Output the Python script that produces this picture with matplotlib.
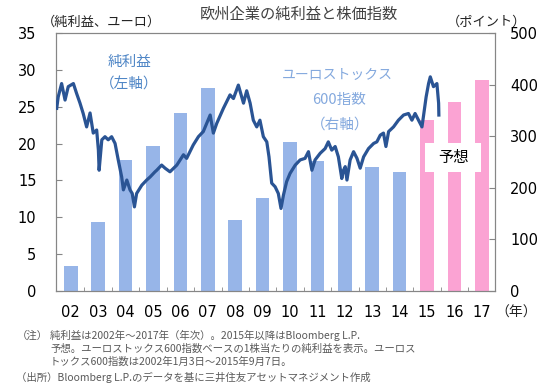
import numpy as np
import matplotlib
matplotlib.use('Agg')
import matplotlib.pyplot as plt
from matplotlib.patches import Rectangle

plt.rcParams['font.family'] = ['Noto Sans CJK JP', 'DejaVu Sans']

# 純利益（ユーロ、年次）
years = ['02', '03', '04', '05', '06', '07', '08', '09', '10', '11', '12', '13', '14', '15', '16', '17']
profit = [3.4, 9.4, 17.8, 19.7, 24.2, 27.5, 9.6, 12.6, 20.2, 17.6, 14.2, 16.8, 16.1, 23.2, 25.7, 28.6]
forecast = [False] * 13 + [True] * 3

# ユーロストックス600指数（小数年、ポイント）
idx_t = [2000.12, 2000.18, 2000.32, 2000.46, 2000.59, 2000.80, 2000.93, 2001.07, 2001.20, 2001.34,
         2001.48, 2001.61, 2001.75, 2001.82, 2001.85, 2001.96, 2002.09, 2002.22, 2002.36, 2002.50,
         2002.63, 2002.77, 2002.84, 2002.98, 2003.11, 2003.20, 2003.29, 2003.38, 2003.59, 2003.79,
         2003.93, 2004.13, 2004.20, 2004.40, 2004.54, 2004.74, 2005.02, 2005.29, 2005.42, 2005.69,
         2005.90, 2006.10, 2006.38, 2006.51, 2006.65, 2006.92, 2007.19, 2007.33, 2007.53, 2007.74,
         2007.87, 2008.01, 2008.14, 2008.28, 2008.41, 2008.55, 2008.69, 2008.78, 2008.89, 2009.03,
         2009.16, 2009.27, 2009.37, 2009.50, 2009.64, 2009.85, 2010.05, 2010.25, 2010.39, 2010.53,
         2010.66, 2010.87, 2011.07, 2011.20, 2011.34, 2011.48, 2011.61, 2011.75, 2011.82, 2011.89,
         2011.96, 2012.09, 2012.23, 2012.37, 2012.50, 2012.64, 2012.84, 2013.05, 2013.18, 2013.32,
         2013.45, 2013.55, 2013.66, 2013.86, 2014.06, 2014.27, 2014.47, 2014.61, 2014.74, 2014.88,
         2015.02, 2015.08, 2015.19, 2015.29, 2015.36, 2015.49, 2015.63, 2015.70, 2015.71]
idx_v = [354, 376, 402, 370, 396, 402, 383, 364, 344, 318,
         345, 306, 312, 273, 234, 293, 299, 293, 299, 286,
         254, 221, 196, 215, 196, 189, 163, 189, 205, 215,
         221, 231, 234, 244, 238, 231, 244, 264, 257, 283,
         299, 309, 341, 306, 325, 354, 380, 373, 399, 364,
         388, 364, 331, 318, 331, 299, 289, 260, 209, 202,
         189, 160, 186, 212, 228, 244, 254, 257, 270, 234,
         254, 267, 276, 289, 273, 280, 260, 218, 234, 241,
         215, 254, 270, 257, 238, 260, 276, 286, 289, 302,
         306, 280, 309, 318, 331, 341, 344, 331, 344, 331,
         318, 338, 376, 402, 415, 396, 402, 364, 341]

blue_bar = '#97b5e8'
pink_bar = '#fba3d3'
line_col = '#2a5494'
spine_col = '#868686'

fig = plt.figure(figsize=(5.43, 3.88), dpi=100)
rect = [0.1031, 0.25, 0.8085, 0.665]
ax = fig.add_axes(rect)

x = np.arange(len(years))
cols = [pink_bar if f else blue_bar for f in forecast]
ax.bar(x, profit, width=0.5, color=cols, zorder=1)
ax.set_xlim(-0.54, 15.48)
ax.set_ylim(0, 35)
ax.set_yticks(np.arange(0, 36, 5))
ax.set_xticks(x)
ax.set_xticklabels(years, fontsize=10.5, family='DejaVu Sans')
ax.set_xticks(np.arange(0.5, 15, 1), minor=True)
ax.tick_params(axis='x', which='major', length=0, pad=10)
ax.tick_params(axis='x', which='minor', direction='in', length=3, color=spine_col)
ax.tick_params(axis='y', direction='in', length=4, color=spine_col, pad=14, labelsize=10.5)
for lab in ax.get_yticklabels():
    lab.set_family('DejaVu Sans')
for s in ax.spines.values():
    s.set_color(spine_col)

axr = ax.twinx()
axr.set_ylim(0, 500)
axr.set_yticks(np.arange(0, 501, 100))
axr.tick_params(axis='y', direction='in', length=4, color=spine_col, pad=11, labelsize=10.5)
for lab in axr.get_yticklabels():
    lab.set_family('DejaVu Sans')
for s in axr.spines.values():
    s.set_color(spine_col)

# 予想ボックス
ax.add_patch(Rectangle((12.93, 16.1), 2.04, 4.0, facecolor='white', edgecolor='none', zorder=3))
ax.text(13.95, 18.1, '予想', ha='center', va='center', fontsize=11, color='black', zorder=4)

# 株価指数の線（日付の軸）
axl = fig.add_axes(rect, frameon=False)
axl.plot(idx_t, idx_v, color=line_col, lw=2.3, solid_joinstyle='round')
axl.set_xlim(2000.09, 2018.0)
axl.set_ylim(0, 500)
axl.axis('off')

# テキスト
fig.text(0.551, 0.964, '欧州企業の純利益と株価指数', ha='center', va='center', fontsize=11, color='#404040')
fig.text(0.077, 0.943, '（純利益、ユーロ）', ha='left', va='center', fontsize=9.5, color='#222222')
fig.text(0.970, 0.943, '（ポイント）', ha='right', va='center', fontsize=9.5, color='#222222')
fig.text(0.912, 0.193, '（年）', ha='left', va='center', fontsize=10, color='#222222')

fig.text(0.239, 0.840, '純利益', ha='center', va='center', fontsize=10.5, color='#4f86c6')
fig.text(0.238, 0.781, '（左軸）', ha='center', va='center', fontsize=10.5, color='#4f86c6')
fig.text(0.622, 0.807, 'ユーロストックス', ha='center', va='center', fontsize=10, color='#84a9de')
fig.text(0.624, 0.742, '600指数', ha='center', va='center', fontsize=10.5, color='#84a9de')
fig.text(0.626, 0.680, '（右軸）', ha='center', va='center', fontsize=10.5, color='#84a9de')

note_col = '#595959'
fig.text(0.030, 0.136, '（注）', ha='left', va='center', fontsize=7.5, color=note_col)
fig.text(0.092, 0.136, '純利益は2002年～2017年（年次）。2015年以降はBloomberg L.P.', ha='left', va='center', fontsize=7.5, color=note_col)
fig.text(0.092, 0.101, '予想。ユーロストックス600指数ベースの1株当たりの純利益を表示。ユーロス', ha='left', va='center', fontsize=7.5, color=note_col)
fig.text(0.092, 0.068, 'トックス600指数は2002年1月3日～2015年9月7日。', ha='left', va='center', fontsize=7.5, color=note_col)
fig.text(0.030, 0.026, '（出所）Bloomberg L.P.のデータを基に三井住友アセットマネジメント作成', ha='left', va='center', fontsize=7.5, color=note_col)

fig.savefig('out.png', dpi=100)
